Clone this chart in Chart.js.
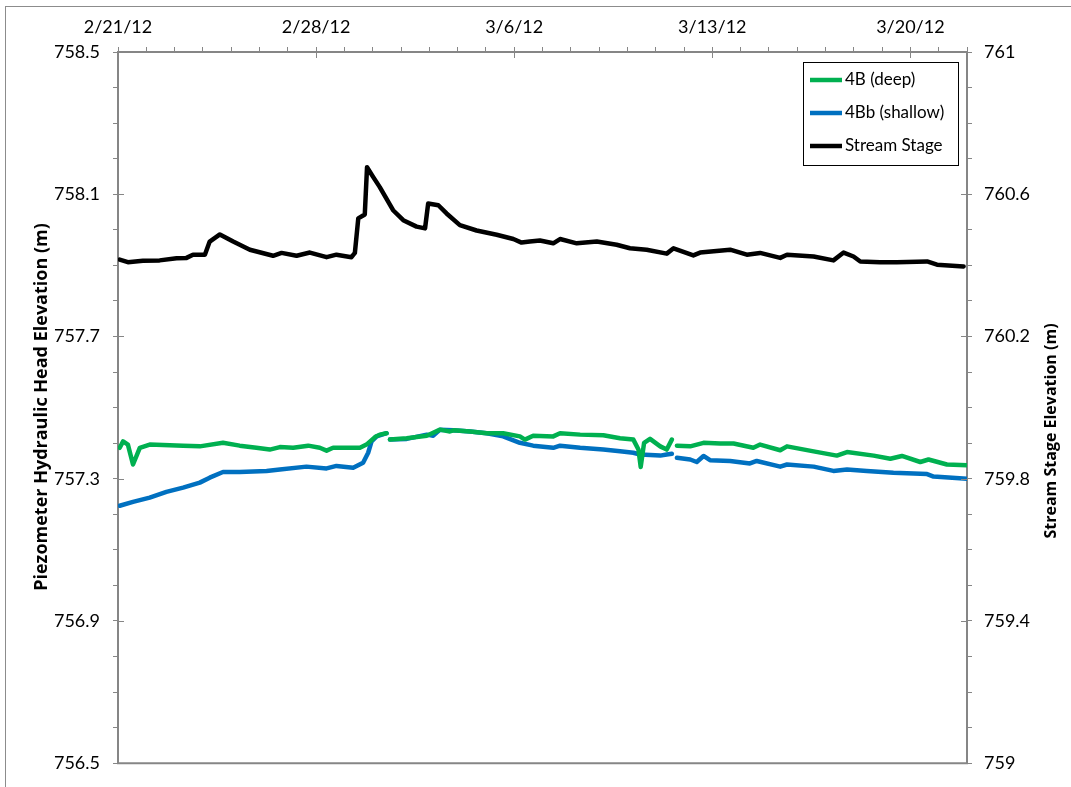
<!DOCTYPE html>
<html>
<head>
<meta charset="utf-8">
<script src="https://cdn.jsdelivr.net/npm/chart.js@4/dist/chart.umd.min.js"></script>
<style>
  html, body { margin: 0; padding: 0; background: #fff; }
  #wrap { width: 1071px; height: 787px; position: relative; }
</style>
</head>
<body>
<div id="wrap"><canvas id="c" width="1071" height="787"></canvas></div>
<script>
// Days since 2/21/12 on the time axis; weekly labels
const dateLabels = ['2/21/12', '2/28/12', '3/6/12', '3/13/12', '3/20/12'];
const seriesNames = ['4B (deep)', '4Bb (shallow)', 'Stream Stage'];

// 4B (deep) piezometer head (m); null marks a logger gap
const deepDays = [0.06, 0.18, 0.35, 0.53, 0.77, 1.12, 2.30, 2.89, 3.71, 4.30, 4.89, 5.36, 5.72, 6.19, 6.72, 7.13, 7.37, 7.60, 8.55, 8.78, 9.08, 9.25, 9.49,
  9.55,
  9.61, 10.20, 10.91, 11.38, 11.73, 11.85, 12.44, 13.03, 13.61, 14.20, 14.38, 14.67, 15.38, 15.62, 16.33, 17.15, 17.74, 18.21, 18.39, 18.47, 18.59, 18.80, 19.16, 19.39, 19.57,
  19.66,
  19.75, 20.22, 20.69, 21.28, 21.75, 22.45, 22.69, 23.40, 23.64, 24.58, 25.40, 25.76, 26.70, 27.29, 27.70, 28.35, 28.64, 29.29, 30.00];
const deepHead = [757.387, 757.405, 757.396, 757.340, 757.387, 757.396, 757.393, 757.391, 757.401, 757.393, 757.387, 757.382, 757.389, 757.387, 757.393, 757.387, 757.379, 757.387, 757.387, 757.396, 757.417, 757.424, 757.428,
  null,
  757.410, 757.414, 757.421, 757.438, 757.433, 757.436, 757.433, 757.428, 757.428, 757.419, 757.410, 757.421, 757.419, 757.428, 757.424, 757.422, 757.414, 757.410, 757.382, 757.333, 757.401, 757.412, 757.391, 757.382, 757.410,
  null,
  757.393, 757.391, 757.401, 757.399, 757.399, 757.387, 757.396, 757.380, 757.391, 757.377, 757.365, 757.375, 757.365, 757.356, 757.364, 757.347, 757.354, 757.340, 757.338];

// 4Bb (shallow) piezometer head (m)
const shallowDays = [0.06, 0.53, 1.12, 1.71, 2.30, 2.89, 3.24, 3.71, 4.30, 5.25, 5.72, 6.66, 7.37, 7.72, 8.31, 8.66, 8.84, 8.96, 9.14, 9.49,
  9.55,
  9.61, 10.20, 10.91, 11.14, 11.38, 11.85, 12.44, 13.03, 13.61, 14.20, 14.67, 15.38, 15.62, 16.33, 17.15, 17.74, 18.21, 18.45, 19.16, 19.39, 19.57,
  19.66,
  19.75, 20.22, 20.45, 20.69, 20.92, 21.63, 22.33, 22.57, 23.40, 23.64, 24.58, 25.28, 25.76, 26.46, 27.40, 28.59, 28.82, 30.00];
const shallowHead = [757.224, 757.235, 757.247, 757.263, 757.275, 757.289, 757.303, 757.319, 757.319, 757.322, 757.326, 757.334, 757.329, 757.336, 757.331, 757.345, 757.373, 757.405, 757.419, 757.428,
  null,
  757.410, 757.412, 757.424, 757.421, 757.438, 757.436, 757.433, 757.428, 757.419, 757.401, 757.393, 757.387, 757.393, 757.387, 757.382, 757.377, 757.373, 757.368, 757.365, 757.368, 757.370,
  null,
  757.359, 757.354, 757.347, 757.364, 757.352, 757.350, 757.343, 757.350, 757.334, 757.340, 757.334, 757.322, 757.326, 757.322, 757.317, 757.313, 757.306, 757.300];

// Stream stage elevation (m), right-hand axis
const stageDays = [0.06, 0.35, 0.88, 1.47, 2.07, 2.42, 2.65, 3.07, 3.24, 3.60, 4.07, 4.66, 5.48, 5.78, 6.31, 6.78, 7.37, 7.72, 8.25, 8.37, 8.49, 8.72, 8.80, 9.02, 9.25, 9.72, 10.08, 10.55, 10.85, 10.96, 11.32, 11.61, 12.08, 12.67, 13.38, 13.97, 14.26, 14.55, 14.91, 15.38, 15.62, 16.21, 16.92, 17.62, 18.09, 18.68, 19.39, 19.63, 20.33, 20.57, 21.63, 22.22, 22.69, 23.40, 23.64, 24.58, 25.28, 25.64, 25.99, 26.23, 26.93, 27.52, 28.59, 28.94, 29.88];
const stageElev = [760.416, 760.409, 760.413, 760.414, 760.420, 760.421, 760.430, 760.430, 760.467, 760.487, 760.467, 760.444, 760.427, 760.435, 760.427, 760.436, 760.423, 760.430, 760.423, 760.435, 760.532, 760.543, 760.676, 760.648, 760.620, 760.555, 760.527, 760.509, 760.504, 760.574, 760.569, 760.546, 760.513, 760.498, 760.486, 760.474, 760.464, 760.467, 760.470, 760.462, 760.474, 760.462, 760.467, 760.458, 760.448, 760.444, 760.433, 760.448, 760.428, 760.436, 760.444, 760.430, 760.435, 760.421, 760.430, 760.425, 760.414, 760.436, 760.425, 760.411, 760.409, 760.409, 760.411, 760.402, 760.397];

const pairs = (xs, ys) => xs.map((x, i) => ({ x: x, y: ys[i] }));

const FONT = 'Lato, "Open Sans", "DejaVu Sans", sans-serif';
const TITLE_FAMILY = '"Open Sans", "DejaVu Sans", sans-serif';
const AXIS_GRAY = '#868686';

// Extra drawing: frame, inward major ticks, rotated axis titles, boxed legend
const decorations = {
  id: 'decorations',
  afterDraw(chart) {
    const ctx = chart.ctx;
    const a = chart.chartArea;
    ctx.save();

    // outer chart frame
    ctx.strokeStyle = '#8c8c8c';
    ctx.lineWidth = 1;
    ctx.strokeRect(5.5, 6.5, 1080, 800);

    // bottom edge of the plot area
    ctx.strokeStyle = AXIS_GRAY;
    ctx.lineWidth = 2;
    ctx.beginPath();
    ctx.moveTo(a.left - 1, a.bottom);
    ctx.lineTo(a.right + 1, a.bottom);
    ctx.stroke();

    // major ticks cross into the plot area
    ctx.lineWidth = 1;
    const xs = chart.scales.x;
    xs.ticks.forEach((t, i) => {
      if (i % 7 !== 0) return;
      const px = Math.round(xs.getPixelForValue(t.value)) + 0.5;
      ctx.beginPath(); ctx.moveTo(px, a.top); ctx.lineTo(px, a.top + 6); ctx.stroke();
    });
    ['y', 'y2'].forEach(id => {
      const s = chart.scales[id];
      s.ticks.forEach((t, i) => {
        if (i % 4 !== 0) return;
        const py = Math.round(s.getPixelForValue(t.value)) + 0.5;
        ctx.beginPath();
        if (id === 'y') { ctx.moveTo(a.left, py); ctx.lineTo(a.left + 6, py); }
        else { ctx.moveTo(a.right, py); ctx.lineTo(a.right - 6, py); }
        ctx.stroke();
      });
    });

    // axis titles, both reading bottom to top
    ctx.fillStyle = '#000';
    ctx.textAlign = 'center';
    ctx.textBaseline = 'middle';
    ctx.save();
    ctx.font = 'bold 18px ' + TITLE_FAMILY;
    ctx.translate(42, 407);
    ctx.rotate(-Math.PI / 2);
    ctx.fillText('Piezometer Hydraulic Head Elevation (m)', 0, 0);
    ctx.restore();
    ctx.save();
    ctx.font = 'bold 16px ' + TITLE_FAMILY;
    ctx.translate(1051, 431);
    ctx.rotate(-Math.PI / 2);
    ctx.fillText('Stream Stage Elevation (m)', 0, 0);
    ctx.restore();

    // legend box
    const lx = 803, ly = 62, lw = 155, lh = 103;
    ctx.fillStyle = '#fff';
    ctx.fillRect(lx, ly, lw, lh);
    ctx.strokeStyle = '#000';
    ctx.lineWidth = 1;
    ctx.strokeRect(lx + 0.5, ly + 0.5, lw, lh);
    ctx.font = '17px ' + FONT;
    ctx.textAlign = 'left';
    chart.data.datasets.forEach((ds, i) => {
      const y = ly + 18 + i * 33;
      ctx.strokeStyle = ds.borderColor;
      ctx.lineWidth = 4.5;
      ctx.beginPath(); ctx.moveTo(lx + 7, y); ctx.lineTo(lx + 39, y); ctx.stroke();
      ctx.fillStyle = '#000';
      ctx.fillText(ds.label, lx + 42, y);
    });
    ctx.restore();
  }
};

const lineStyle = { borderWidth: 4.5, pointRadius: 0, tension: 0, spanGaps: false, fill: false, borderJoinStyle: 'round', borderCapStyle: 'round' };

new Chart(document.getElementById('c'), {
  type: 'line',
  data: {
    datasets: [
      Object.assign({ label: seriesNames[0], data: pairs(deepDays, deepHead), borderColor: '#00B050', yAxisID: 'y' }, lineStyle),
      Object.assign({ label: seriesNames[1], data: pairs(shallowDays, shallowHead), borderColor: '#0070C0', yAxisID: 'y' }, lineStyle),
      Object.assign({ label: seriesNames[2], data: pairs(stageDays, stageElev), borderColor: '#000000', yAxisID: 'y2' }, lineStyle)
    ]
  },
  options: {
    responsive: false,
    devicePixelRatio: 1,
    animation: false,
    layout: { padding: { top: 0, left: 0, right: 0, bottom: 17 } },
    plugins: { legend: { display: false }, tooltip: { enabled: false } },
    scales: {
      x: {
        type: 'linear', position: 'top', min: 0, max: 30,
        afterFit(s) { s.height = 52; },
        afterBuildTicks(s) { s.ticks = Array.from({ length: 31 }, (_, i) => ({ value: i })); },
        grid: { drawOnChartArea: false, drawTicks: true, tickLength: 5, color: AXIS_GRAY },
        border: { color: AXIS_GRAY, width: 2 },
        ticks: {
          autoSkip: false, maxRotation: 0, padding: 9, color: '#000',
          font: { family: FONT, size: 18 },
          callback: (v, i) => (i % 7 === 0 ? dateLabels[i / 7] : '')
        }
      },
      y: {
        type: 'linear', position: 'left', min: 756.5, max: 758.5,
        afterFit(s) { s.width = 118; },
        afterBuildTicks(s) { s.ticks = Array.from({ length: 21 }, (_, i) => ({ value: 756.5 + i * 0.1 })); },
        grid: { drawOnChartArea: false, drawTicks: true, tickLength: 5, color: AXIS_GRAY },
        border: { color: AXIS_GRAY, width: 2 },
        ticks: {
          autoSkip: false, padding: 13, color: '#000',
          font: { family: FONT, size: 18 },
          callback: (v, i) => (i % 4 === 0 ? (756.5 + i * 0.1).toFixed(1) : '')
        }
      },
      y2: {
        type: 'linear', position: 'right', min: 759, max: 761,
        afterFit(s) { s.width = 104; },
        afterBuildTicks(s) { s.ticks = Array.from({ length: 21 }, (_, i) => ({ value: 759 + i * 0.1 })); },
        grid: { drawOnChartArea: false, drawTicks: true, tickLength: 5, color: AXIS_GRAY },
        border: { color: AXIS_GRAY, width: 2 },
        ticks: {
          autoSkip: false, padding: 12, color: '#000',
          font: { family: FONT, size: 18 },
          callback: (v, i) => (i % 4 === 0 ? String(+(759 + i * 0.1).toFixed(1)) : '')
        }
      }
    }
  },
  plugins: [decorations]
});
</script>
</body>
</html>
